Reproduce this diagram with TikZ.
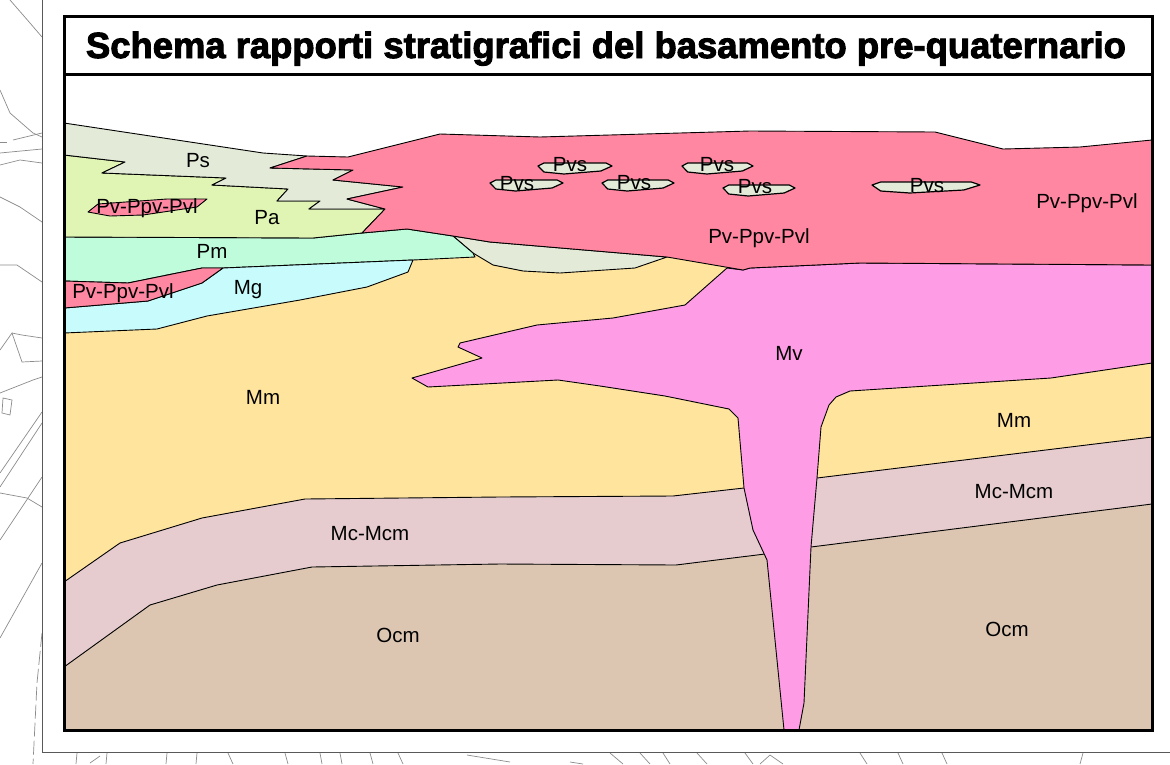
\documentclass[tikz,border=0pt]{standalone}
\usepackage{fontspec}
\usepackage{graphicx}
\setmainfont{Liberation Sans}
\newfontfamily\headfont[FakeBold=2.6]{Liberation Sans Bold}
\newcommand\lblfont{\fontsize{20.5}{24}\selectfont}

% unit colours
\definecolor{cPs}{HTML}{E3EAD8}
\definecolor{cPa}{HTML}{E0F5B4}
\definecolor{cPv}{HTML}{FF87A2}
\definecolor{cPm}{HTML}{BFFCDC}
\definecolor{cMg}{HTML}{C8FCFC}
\definecolor{cMm}{HTML}{FFE49E}
\definecolor{cMv}{HTML}{FF9CE6}
\definecolor{cMc}{HTML}{E6CCCE}
\definecolor{cOcm}{HTML}{DCC6B2}

\tikzset{
  unit/.style={draw=black, line width=0.9pt, line join=round},
  lbl/.style={font=\lblfont, anchor=base, inner sep=0pt},
  frameline/.style={line width=3pt},
  outerline/.style={draw=black!65, line width=1pt},
  mapline/.style={draw=black!45, line width=0.7pt},
}

% small lens of Pvs: left x, right x, tip y
\newcommand\pvslens[3]{%
  \filldraw[unit, line width=1.2pt, fill=cPs]
    ({#1},{#3}) -- ({#1+0.08*(#2-#1)},{#3-3}) -- ({#2-0.08*(#2-#1)},{#3-3})
    -- ({#2},{#3}) -- ({#2-0.15*(#2-#1)},{#3+5}) -- ({#1+0.35*(#2-#1)},{#3+8})
    -- ({#1+0.08*(#2-#1)},{#3+6}) -- cycle;}

\begin{document}
\begin{tikzpicture}[x=1pt,y=-1pt]
\fill[white] (0,0) rectangle (1170,764);
\useasboundingbox (0,0) rectangle (1170,764);

% ---- background map linework ----
\draw[mapline] (10,0) -- (30,23) -- (42,37);
\draw[mapline] (0,90) -- (10,113) -- (33,133) -- (42,137);
\draw[mapline] (0,142) -- (7,142);
\draw[mapline] (13,140) -- (42,133);
\draw[mapline] (0,153) -- (42,149);
\draw[mapline] (0,165) -- (20,160) -- (42,163);
\draw[mapline] (0,197) -- (20,207) -- (42,222);
\draw[mapline] (0,265) -- (17,265) -- (42,282);
\draw[mapline] (0,350) -- (12,333) -- (22,362) -- (42,361);
\draw[mapline] (12,333) -- (22,335) -- (42,338);
\draw[mapline] (0,393) -- (33,380) -- (42,377);
\draw[mapline] (3,398) -- (12,400) -- (10,415) -- (2,413) -- cycle;
\draw[mapline] (0,473) -- (42,412);
\draw[mapline] (0,487) -- (42,423);
\draw[mapline] (0,493) -- (27,498) -- (42,507);
\draw[mapline] (0,540) -- (42,477);
\draw[mapline] (0,638) -- (42,563);
\draw[mapline, dash pattern=on 14pt off 4pt] (42,633) -- (37,683) -- (33,764);
\foreach \xa/\xb in {77/76, 107/106, 167/166, 197/196, 228/233, 285/288, 320/322, 340/342,
                     370/373, 398/403, 610/623, 640/650, 663/670, 697/707, 745/753,
                     860/867, 898/903, 942/947, 1083/1080}
  \draw[mapline] (\xa,753) -- (\xb,764);
\draw[mapline] (90,763) -- (100,756);
\draw[mapline] (467,755) -- (510,762);
\draw[mapline] (760,764) -- (770,755) -- (783,764);
\draw[mapline] (570,762) -- (583,764);

% outer sheet border
\draw[outerline] (42,0) -- (42,752) -- (1170,752);

% ---- section ----
% Mm (base fill, later units overlay it)
\fill[cMm] (64,250) rectangle (1152,730);
% Mc-Mcm
\filldraw[unit, fill=cMc] (64,582) -- (120,543) -- (202,518) -- (305,499) -- (500,497)
  -- (673,496) -- (744,488) -- (817,478) -- (1152,437) -- (1152,730) -- (64,730) -- cycle;
% Ocm
\filldraw[unit, fill=cOcm] (64,667) -- (150,605) -- (217,585) -- (312,567) -- (500,564)
  -- (676,565) -- (765,554) -- (811,547) -- (1152,504) -- (1152,730) -- (64,730) -- cycle;
% Mv
\filldraw[unit, fill=cMv] (727,268) -- (743,270) -- (750,268) -- (860,263) -- (1152,265)
  -- (1152,363) -- (1051,378) -- (850,391) -- (836,397) -- (829,405) -- (821,427)
  -- (817,478) -- (811,547) -- (804,703) -- (799,730) -- (784,730) -- (767,560)
  -- (753,530) -- (744,488) -- (738,418) -- (729,409) -- (665,396) -- (600,386)
  -- (558,380) -- (428,387) -- (412,378) -- (482,358) -- (458,347) -- (460,343)
  -- (537,325) -- (613,318) -- (685,305) -- cycle;
% lens below the volcanics
\filldraw[unit, fill=cPs] (453,236) -- (490,242) -- (667,257) -- (635,268) -- (560,273)
  -- (523,271) -- (493,265) -- (473,253) -- cycle;
% Pm
\filldraw[unit, fill=cPm] (64,237) -- (313,238) -- (362,233) -- (407,229) -- (453,236)
  -- (473,253) -- (475,257) -- (413,260) -- (223,268) -- (202,268) -- (128,283)
  -- (64,281) -- cycle;
% Mg
\filldraw[unit, fill=cMg] (64,308) -- (148,301) -- (202,283) -- (223,268) -- (413,260)
  -- (408,272) -- (367,287) -- (300,300) -- (207,316) -- (157,329) -- (64,333) -- cycle;
% lower Pv-Ppv-Pvl wedge
\filldraw[unit, fill=cPv] (64,281) -- (128,283) -- (202,268) -- (223,268) -- (202,283)
  -- (148,301) -- (64,308) -- cycle;
% Pa
\filldraw[unit, fill=cPa] (64,155) -- (125,162) -- (102,173) -- (226,178) -- (212,185)
  -- (288,189) -- (277,201) -- (320,201) -- (309,209) -- (385,209) -- (362,233)
  -- (313,238) -- (64,237) -- cycle;
% Ps
\filldraw[unit, fill=cPs] (64,123) -- (263,153) -- (307,156) -- (270,168) -- (353,170)
  -- (333,180) -- (403,187) -- (347,199) -- (385,209) -- (309,209) -- (320,201)
  -- (277,201) -- (288,189) -- (212,185) -- (226,178) -- (102,173) -- (125,162)
  -- (64,155) -- cycle;
% Pv-Ppv-Pvl main body
\filldraw[unit, fill=cPv] (307,156) -- (348,157) -- (440,134) -- (540,137) -- (750,131)
  -- (935,132) -- (1003,149) -- (1080,147) -- (1152,140) -- (1152,265) -- (860,263)
  -- (750,268) -- (743,270) -- (667,257) -- (490,242) -- (453,236) -- (407,229)
  -- (362,233) -- (385,209) -- (347,199) -- (403,187) -- (333,180) -- (353,170)
  -- (270,168) -- cycle;
% upper Pv-Ppv-Pvl lens within Pa
\filldraw[unit, fill=cPv] (88,212) -- (98,204) -- (167,199) -- (207,199) -- (197,207)
  -- (143,215) -- (110,216) -- cycle;
% Pvs lenses
\pvslens{538}{612}{166}
\pvslens{682}{753}{166}
\pvslens{490}{563}{183}
\pvslens{602}{674}{183}
\pvslens{723}{795}{188}
\pvslens{872}{980}{185}

% ---- labels ----
\node[lbl] (lPs)   at (198,167) {Ps};
\node[lbl] (lPvA)  at (147,213) {Pv-Ppv-Pvl};
\node[lbl] (lPa)   at (267,224) {Pa};
\node[lbl] (lPm)   at (212,258) {Pm};
\node[lbl] (lPvB)  at (123,298) {Pv-Ppv-Pvl};
\node[lbl] (lMg)   at (248,294) {Mg};
\node[lbl] (lPvC)  at (759,243) {Pv-Ppv-Pvl};
\node[lbl] (lPvD)  at (1087,208) {Pv-Ppv-Pvl};
\node[lbl] (lPvsA) at (570,171) {Pvs};
\node[lbl] (lPvsB) at (717,171) {Pvs};
\node[lbl] (lPvsC) at (517,190) {Pvs};
\node[lbl] (lPvsD) at (634,189) {Pvs};
\node[lbl] (lPvsE) at (755,193) {Pvs};
\node[lbl] (lPvsF) at (927,192) {Pvs};
\node[lbl] (lMv)   at (789,360) {Mv};
\node[lbl] (lMmA)  at (263,404) {Mm};
\node[lbl] (lMmB)  at (1014,427) {Mm};
\node[lbl] (lMcA)  at (370,540) {Mc-Mcm};
\node[lbl] (lMcB)  at (1014,498) {Mc-Mcm};
\node[lbl] (lOcmA) at (398,642) {Ocm};
\node[lbl] (lOcmB) at (1007,636) {Ocm};

% ---- frame and title ----
\draw[frameline] (64,16) rectangle (1152,730);
\draw[frameline] (64,74) -- (1152,74);
\node[anchor=base, inner sep=0pt] (title) at (606,58)
  {\resizebox{1040pt}{!}{\headfont Schema rapporti stratigrafici del basamento pre-quaternario}};
\end{tikzpicture}
\end{document}
